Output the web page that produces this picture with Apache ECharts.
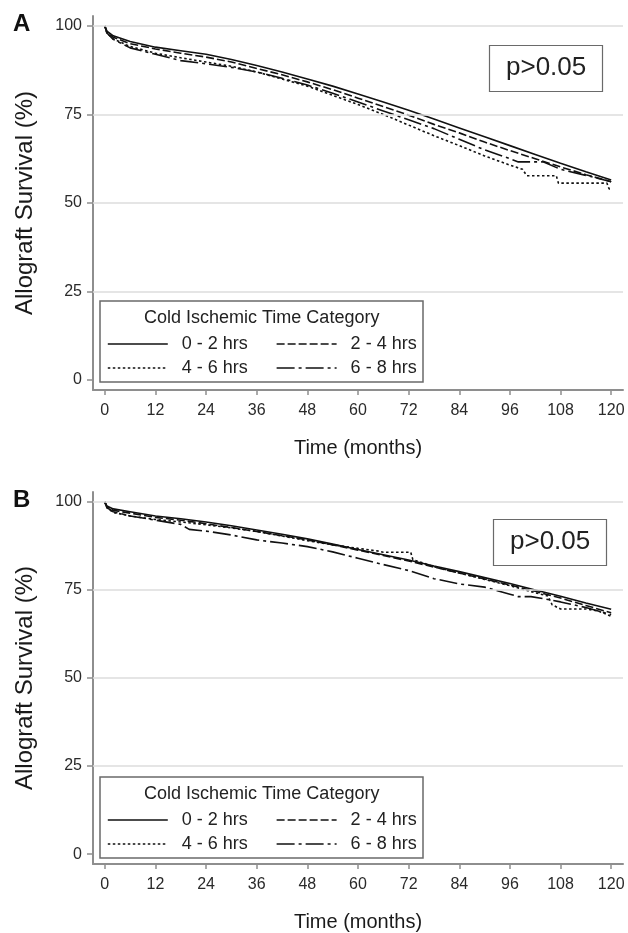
<!DOCTYPE html>
<html>
<head>
<meta charset="utf-8">
<script src="https://cdn.jsdelivr.net/npm/echarts@6/dist/echarts.min.js"></script>
<style>
html,body{margin:0;padding:0;background:#fff;}
#chart{width:628px;height:933px;}
</style>
</head>
<body>
<div id="chart"></div>
<script>
// ---- Data ----
const seriesNames = ['0 - 2 hrs', '2 - 4 hrs', '4 - 6 hrs', '6 - 8 hrs'];
const xTicks = [0, 12, 24, 36, 48, 60, 72, 84, 96, 108, 120];
const yTicks = [0, 25, 50, 75, 100];
const yGrid = [25, 50, 75, 100];

// Panel A: [month, survival %]
const A_0_2 = [[0,100],[0.5,98.5],[2,97.2],[6,95.6],[12,94],[18,93],[24,92],[30,90.5],[36,88.8],[42,87],[48,85],[54,83],[60,80.8],[66,78.5],[72,76.2],[78,73.7],[84,71.2],[90,68.7],[96,66.2],[102,63.7],[108,61.2],[114,58.8],[120,56.5]];
const A_2_4 = [[0,100],[0.5,98.2],[2,96.8],[6,95],[12,93.5],[18,92.3],[24,91.2],[30,89.8],[36,88],[42,86.2],[48,84.2],[54,82],[60,79.6],[66,77.2],[72,74.8],[78,72.2],[84,69.8],[90,67.2],[96,64.8],[102,62.5],[108,60.2],[114,58],[120,56]];
const A_4_6 = [[0,100],[0.5,98],[2,96.3],[6,94.2],[12,92.3],[18,91],[24,89.8],[30,88.6],[36,87],[42,85],[48,83],[54,80.4],[60,77.8],[66,75],[72,72],[78,69],[84,66.2],[90,63.3],[96,60.7],[99,59.5],[100,57.7],[107,57.7],[107.5,55.6],[119,55.6],[119.5,54],[120,54]];
const A_6_8 = [[0,100],[0.5,98],[2,96.2],[6,93.8],[12,92],[18,90.2],[24,89.3],[30,88.3],[36,87],[42,85.2],[48,83.3],[54,81],[60,78.5],[66,76],[72,73.5],[78,71],[84,68],[90,65],[96,62.5],[98,61.6],[104,61.6],[108,59.5],[114,57.8],[120,56]];

// Panel B
const B_0_2 = [[0,100],[0.5,98.8],[2,98],[6,97.2],[12,96],[18,95.2],[24,94.3],[30,93.2],[36,92],[42,90.8],[48,89.5],[54,88],[60,86.5],[66,85],[72,83.5],[78,81.8],[84,80.2],[90,78.5],[96,76.8],[102,75],[108,73.2],[114,71.3],[120,69.5]];
const B_2_4 = [[0,100],[0.5,98.5],[2,97.6],[6,96.8],[12,95.6],[18,94.8],[24,93.8],[30,92.7],[36,91.6],[42,90.4],[48,89.2],[54,87.8],[60,86.3],[66,84.8],[72,83.2],[78,81.5],[84,79.8],[90,78.1],[96,76.4],[102,74.6],[108,72.7],[114,70.6],[120,68.5]];
const B_4_6 = [[0,100],[0.5,98.3],[2,97],[6,96],[12,95],[18,94.3],[24,93.5],[30,92.6],[36,91.6],[42,90.3],[48,89],[54,87.8],[60,86.8],[65,86],[66,85.7],[72.5,85.7],[73,83.6],[78,81.6],[84,79.8],[90,78],[96,76.2],[102,74.2],[105,73.3],[106,70.8],[108,69.6],[114,69.6],[117,69],[120,67.5]];
const B_6_8 = [[0,100],[0.5,98.4],[2,97.2],[6,96],[12,94.8],[18,93.6],[20,92.2],[24,91.7],[30,90.6],[36,89.2],[42,88.3],[48,87.3],[54,85.8],[60,84],[66,82.2],[72,80.5],[78,78.2],[84,76.7],[90,75.8],[96,73.8],[98,73.1],[101,73.1],[104,72.5],[108,71.6],[114,70],[120,68]];

const panelLabels = ['A', 'B'];
const pText = 'p>0.05';
const legendTitle = 'Cold Ischemic Time Category';
const yName = 'Allograft Survival (%)';
const xName = 'Time (months)';

// ---- Styles ----
const FONT = '"Liberation Sans", Arial, Helvetica, sans-serif';
const dashTypes = ['solid', [8, 3], [2.5, 2.5], [18, 4, 3, 4]];
const axisGray = '#8e8e8e';
const panelOffset = 476;

const chart = echarts.init(document.getElementById('chart'), null, {renderer: 'canvas'});

const panels = [[A_0_2, A_2_4, A_4_6, A_6_8], [B_0_2, B_2_4, B_4_6, B_6_8]];

const grids = [], xAxes = [], yAxes = [], series = [], titles = [], legends = [];

panels.forEach((data, p) => {
  const off = p * panelOffset;
  grids.push({left: 93, right: 5, top: 16 + off, height: 374 - p, containLabel: false});
  xAxes.push({
    type: 'value', gridIndex: p, min: -2.8, max: 122.8,
    name: xName, nameLocation: 'middle', nameGap: 48,
    nameTextStyle: {fontFamily: FONT, fontSize: 20, color: '#1a1a1a'},
    axisLine: {show: true, onZero: false, lineStyle: {color: axisGray, width: 2}},
    axisTick: {show: true, length: 5, customValues: xTicks, lineStyle: {color: axisGray, width: 1.5}},
    axisLabel: {customValues: xTicks, margin: 13, fontFamily: FONT, fontSize: 16, color: '#2a2a2a'},
    splitLine: {show: false}
  });
  yAxes.push({
    type: 'value', gridIndex: p, min: -2.8, max: 102.8,
    name: yName, nameLocation: 'middle', nameGap: 56,
    nameTextStyle: {fontFamily: FONT, fontSize: 24, color: '#1a1a1a'},
    axisLine: {show: true, onZero: false, lineStyle: {color: axisGray, width: 2}},
    axisTick: {show: true, length: 6, customValues: yTicks, lineStyle: {color: axisGray, width: 1.5}},
    axisLabel: {customValues: yTicks, margin: 11, fontFamily: FONT, fontSize: 16, color: '#2a2a2a'},
    splitLine: {show: false}
  });
  // gridlines
  series.push({
    type: 'line', xAxisIndex: p, yAxisIndex: p, data: [], z: 1, silent: true,
    markLine: {
      silent: true, symbol: 'none', animation: false, label: {show: false},
      lineStyle: {color: '#dcdcdc', width: 1.5, type: 'solid'},
      data: yGrid.map(v => ({yAxis: v}))
    }
  });
  data.forEach((d, i) => {
    series.push({
      name: seriesNames[i], type: 'line', xAxisIndex: p, yAxisIndex: p,
      data: d, symbol: 'none', z: 3, smooth: false,
      lineStyle: {color: '#111', width: 1.6, type: dashTypes[i]},
      itemStyle: {color: '#111'}
    });
  });
  // panel letter
  titles.push({text: panelLabels[p], left: 13, top: 12 + off, padding: 0,
    textStyle: {fontFamily: FONT, fontSize: 24, fontWeight: 'bold', color: '#111'}});
  // p-value box
  titles.push({text: pText, left: 489 + p * 4, top: 45 + off - p * 2, padding: [9, 17, 10, 17],
    borderColor: '#6a6a6a', borderWidth: 1.2,
    textStyle: {fontFamily: FONT, fontSize: 26, fontWeight: 'normal', color: '#222', lineHeight: 28}});
  // legend box + title
  titles.push({text: legendTitle, left: 100, top: 301 + off, padding: [7, 44, 54, 44],
    borderColor: '#6a6a6a', borderWidth: 1.5,
    textStyle: {fontFamily: FONT, fontSize: 18, fontWeight: 'normal', color: '#222', lineHeight: 20}});
  [[0, 1], [2, 3]].forEach((row, r) => {
    legends.push({
      data: row.map(k => seriesNames[k]), orient: 'horizontal',
      left: 107, top: 334 + r * 24 + off, padding: 0,
      itemWidth: 60, itemHeight: 12, itemGap: 28,
      selectedMode: false,
      itemStyle: {opacity: 0},
      lineStyle: {width: 1.6, color: '#111'},
      textStyle: {fontFamily: FONT, fontSize: 18, color: '#222', lineHeight: 20, padding: [0, 0, 0, 9]}
    });
  });
});

chart.setOption({
  animation: false,
  backgroundColor: '#fff',
  title: titles,
  legend: legends,
  grid: grids,
  xAxis: xAxes,
  yAxis: yAxes,
  series: series
});
</script>
</body>
</html>
